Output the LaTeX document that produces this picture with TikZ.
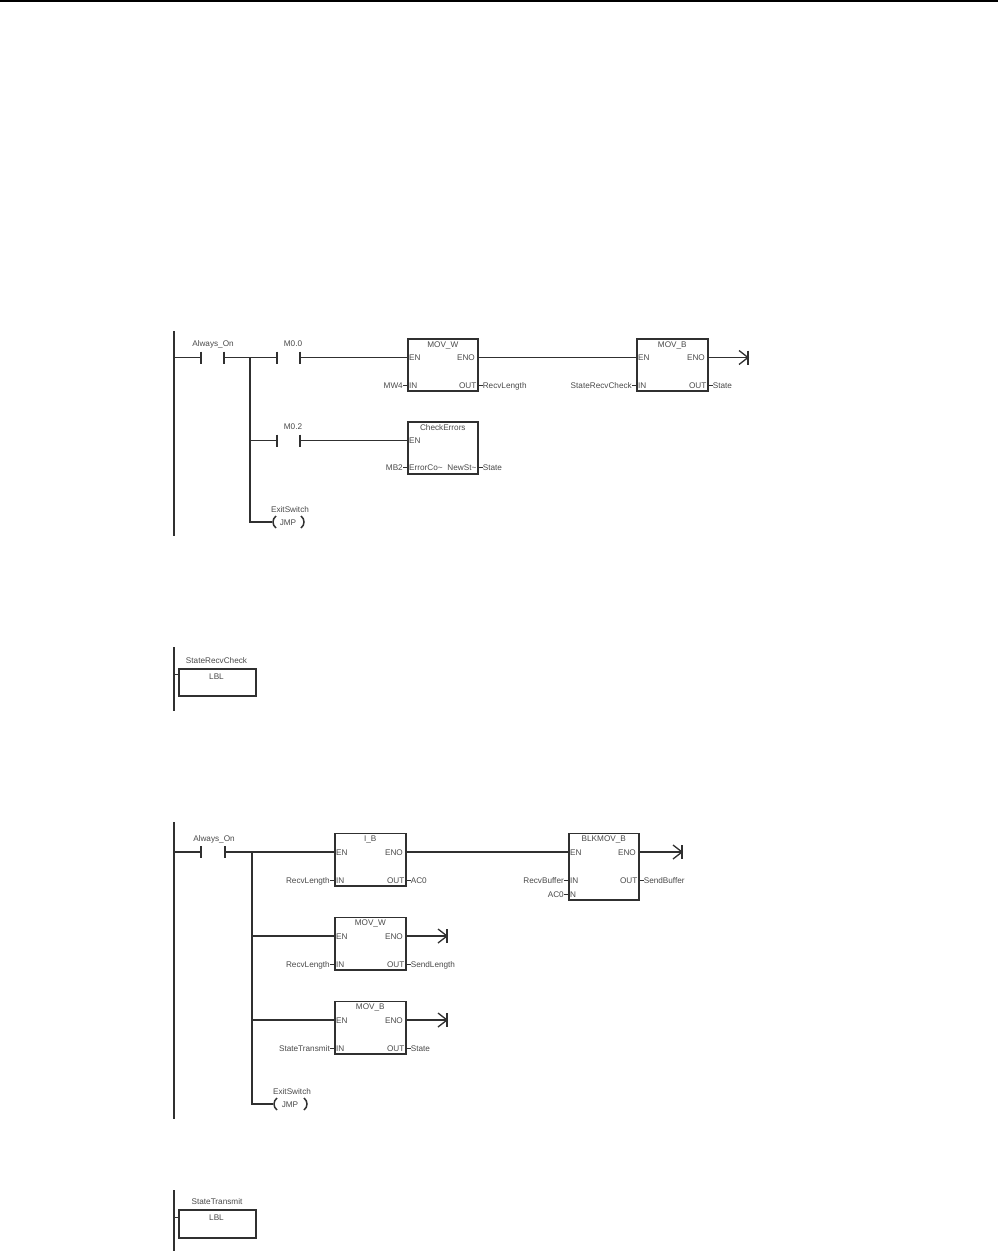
\documentclass[tikz,border=0pt]{standalone}
\usepackage{fontspec}
\setmainfont{Liberation Sans}
\definecolor{ink}{HTML}{303030}
\definecolor{txt}{HTML}{4A4A4A}
\tikzset{
  x=1pt,y=-1pt,
  wire/.style={draw=ink,line width=1.2pt},
  rail/.style={draw=ink,line width=1.3pt},
  stub/.style={draw=ink,line width=0.8pt},
  fb/.style={draw=ink,line width=1.6pt,rectangle,inner sep=0pt,fill=white},
  tx/.style={text=txt,font=\fontsize{8.2}{9}\selectfont,inner sep=0pt,text height=7pt,text depth=0.2pt},
  coilmark/.style={draw=ink,line width=1.3pt},
  paren/.style={draw=ink,line width=1.5pt},
  topline/.style={draw=black,line width=1.5pt}
}
% name, left, top, width, height, title
\newcommand{\blk}[6]{%
  \node[fb,minimum width=#4pt,minimum height=#5pt,anchor=north west] (#1) at (#2,#3) {};
  \path (#1.north) ++(0,6) node[tx] (#1title) {#6};
  \coordinate (#1en) at (#2,#3+19.5);
  \coordinate (#1eno) at (#2+#4,#3+19.5);
  \node[tx,anchor=west] (#1ENlab) at (#2+2,#3+19.5) {EN};
}
\newcommand{\eno}[1]{\node[tx,anchor=east] (#1ENOlab) at (#1eno) [xshift=-2pt] {ENO};}
% block, y, value, label, key
\newcommand{\inpin}[5]{%
  \coordinate (#1#5p) at (#1.west |- 0,#2);
  \node[tx,anchor=west] (#1#5lab) at (#1#5p) [xshift=2pt] {#4};
  \node[tx,anchor=east] (#1#5val) at (#1#5p) [xshift=-4pt] {#3};
  \draw[stub] (#1#5val.east |- #1#5p) -- (#1#5p);
}
\newcommand{\outpin}[4]{%
  \coordinate (#1op) at (#1.east |- 0,#2);
  \node[tx,anchor=east] (#1olab) at (#1op) [xshift=-2pt] {#4};
  \node[tx,anchor=west] (#1oval) at (#1op) [xshift=4pt] {#3};
  \draw[stub] (#1op) -- (#1oval.west |- #1op);
}
% name, x, y
\newcommand{\coil}[3]{%
  \coordinate (#1) at (#2,#3);
  \draw[coilmark] (#2,#3-7) -- (#2,#3+7);
  \draw[coilmark] (#2-9,#3-7) -- (#2,#3) -- (#2-9,#3+7);
}
% name, x-left, x-right, y, label-centre x, label
\newcommand{\contact}[6]{%
  \coordinate (#1l) at (#2,#4);
  \coordinate (#1r) at (#3,#4);
  \draw[rail] (#2,#4-6) -- (#2,#4+6);
  \draw[rail] (#3,#4-6) -- (#3,#4+6);
  \node[tx] (#1lab) at (#5,#4-14) {#6};
}
% name, xl, xm, xr, y, lx
\newcommand{\jump}[6]{%
  \coordinate (#1) at (#2,#5);
  \draw[paren] (#2+4,#5-6) .. controls (#2,#5-3) and (#2,#5+3) .. (#2+4,#5+6);
  \draw[paren] (#4-4,#5-6) .. controls (#4,#5-3) and (#4,#5+3) .. (#4-4,#5+6);
  \node[tx] (#1txt) at (#3,#5) {JMP};
  \node[tx] (#1lab) at (#6,#5-13) {ExitSwitch};
}
\begin{document}
\begin{tikzpicture}
\useasboundingbox (0,0) rectangle (998,1251);
\coordinate (tl) at (0,0.75); \coordinate (tr) at (998,0.75);
\draw[topline] (tl) -- (tr);

% Network 1
\coordinate (r1t) at (174,331); \coordinate (r1b) at (174,536);
\draw[rail] (r1t) -- (r1b);
\coordinate (r1a) at (174,357.5);
\contact{a1}{201}{224}{357.5}{213}{Always\_On}
\coordinate (b1) at (250,357.5); \coordinate (b1m) at (250,440.5); \coordinate (b1e) at (250,522);
\contact{m00}{277}{300}{357.5}{293}{M0.0}
\contact{m02}{277}{300}{440.5}{293}{M0.2}
\blk{movw}{407}{338}{70}{52}{MOV\_W}
\eno{movw}
\inpin{movw}{385}{MW4}{IN}{i}
\outpin{movw}{385}{RecvLength}{OUT}
\blk{chk}{407}{421}{70}{52}{CheckErrors}
\inpin{chk}{467}{MB2}{ErrorCo\textasciitilde}{i}
\outpin{chk}{467}{State}{NewSt\textasciitilde}
\blk{movb}{636}{338}{71}{52}{MOV\_B}
\eno{movb}
\inpin{movb}{385}{StateRecvCheck}{IN}{i}
\outpin{movb}{385}{State}{OUT}
\coil{c1}{748}{357.5}
\jump{j1}{272}{288}{305}{522}{290}
\draw[wire] (r1a) -- (a1l);
\draw[wire] (a1r) -- (b1);
\draw[wire] (b1) -- (m00l);
\draw[wire] (m00r) -- (movwen);
\draw[wire] (movweno) -- (movben);
\draw[wire] (movbeno) -- (c1);
\draw[wire] (b1) -- (b1e) -- (j1);
\draw[wire] (b1m) -- (m02l);
\draw[wire] (m02r) -- (chken);

% Label 1
\coordinate (r2t) at (174,647); \coordinate (r2b) at (174,711);
\draw[rail] (r2t) -- (r2b);
\node[fb,minimum width=77pt,minimum height=27pt,anchor=north west] (lbl1) at (178,668) {};
\node[tx] (lbl1t) at (216.5,676) {LBL};
\node[tx] (lbl1n) at (216.5,660.5) {StateRecvCheck};
\coordinate (s1) at (174,674);
\draw[stub] (s1) -- (lbl1.west |- s1);

% Network 2
\coordinate (r3t) at (174,822); \coordinate (r3b) at (174,1119);
\draw[rail] (r3t) -- (r3b);
\coordinate (r3a) at (174,852);
\contact{a2}{201}{225}{852}{214}{Always\_On}
\coordinate (b2) at (252,852); \coordinate (b2m) at (252,936); \coordinate (b2n) at (252,1020); \coordinate (b2e) at (252,1104);
\blk{ib}{334}{832.5}{71}{52.5}{I\_B}
\eno{ib}
\inpin{ib}{880}{RecvLength}{IN}{i}
\outpin{ib}{880}{AC0}{OUT}
\blk{mw}{334}{916.5}{71}{52.5}{MOV\_W}
\eno{mw}
\inpin{mw}{964}{RecvLength}{IN}{i}
\outpin{mw}{964}{SendLength}{OUT}
\blk{mb}{334}{1000.5}{71}{52.5}{MOV\_B}
\eno{mb}
\inpin{mb}{1048}{StateTransmit}{IN}{i}
\outpin{mb}{1048}{State}{OUT}
\blk{bk}{568}{832.5}{70}{66.5}{BLKMOV\_B}
\eno{bk}
\inpin{bk}{880}{RecvBuffer}{IN}{i}
\inpin{bk}{894}{AC0}{N}{n}
\outpin{bk}{880}{SendBuffer}{OUT}
\coil{c2}{682}{852}
\coil{c3}{447}{936}
\coil{c4}{447}{1020}
\jump{j2}{273}{290}{308}{1104}{292}
\draw[wire] (r3a) -- (a2l);
\draw[wire] (a2r) -- (b2);
\draw[wire] (b2) -- (iben);
\draw[wire] (ibeno) -- (bken);
\draw[wire] (bkeno) -- (c2);
\draw[wire] (b2) -- (b2e) -- (j2);
\draw[wire] (b2m) -- (mwen);
\draw[wire] (mweno) -- (c3);
\draw[wire] (b2n) -- (mben);
\draw[wire] (mbeno) -- (c4);

% Label 2
\coordinate (r4t) at (174,1190); \coordinate (r4b) at (174,1251);
\draw[rail] (r4t) -- (r4b);
\node[fb,minimum width=77pt,minimum height=28pt,anchor=north west] (lbl2) at (178,1209) {};
\node[tx] (lbl2t) at (216.5,1217) {LBL};
\node[tx] (lbl2n) at (217,1201) {StateTransmit};
\coordinate (s2) at (174,1217);
\draw[stub] (s2) -- (lbl2.west |- s2);
\end{tikzpicture}
\end{document}
